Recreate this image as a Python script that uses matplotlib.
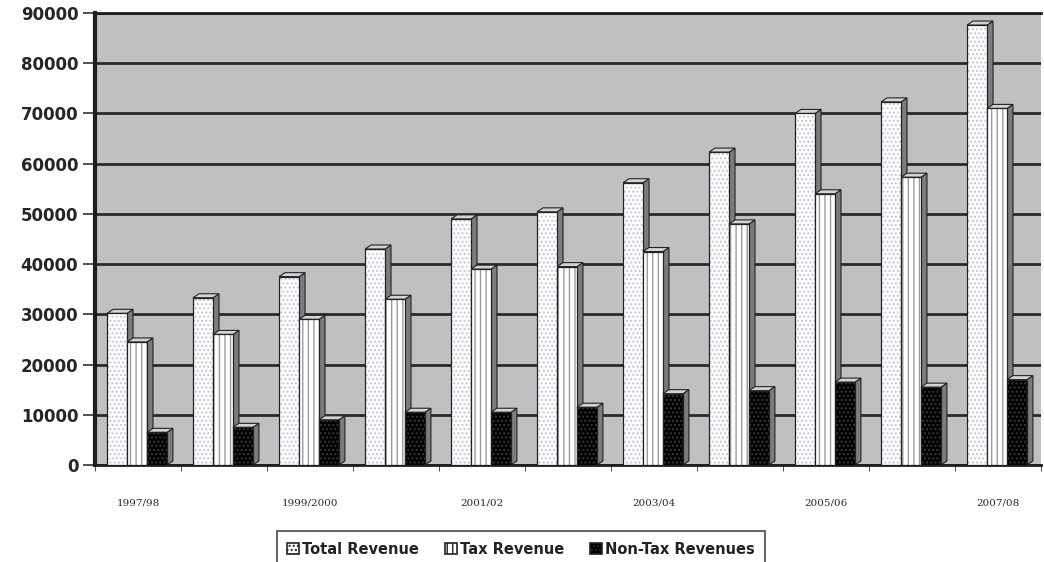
import matplotlib.pyplot as plt
import numpy as np
from matplotlib.patches import Polygon

# revenue by fiscal year
years = ['1997/98', '1998/99', '1999/2000', '2000/01', '2001/02', '2002/03',
         '2003/04', '2004/05', '2005/06', '2006/07', '2007/08']
total_rev = [30200, 33300, 37500, 43000, 49000, 50400, 56200, 62300, 70000, 72300, 87600]
tax_rev = [24500, 26000, 29000, 33000, 39000, 39500, 42500, 48000, 54000, 57300, 71000]
nontax_rev = [6500, 7500, 9000, 10500, 10500, 11500, 14200, 14800, 16500, 15500, 17000]

series = [('Total Revenue', total_rev, 'white', '#c4c4dc', '....'),
          ('Tax Revenue', tax_rev, 'white', '#9a9a9a', '|||'),
          ('Non-Tax Revenues', nontax_rev, 'black', '#3a3a3a', '....')]

fig = plt.figure(figsize=(10.44, 5.62), dpi=100)
ax = fig.add_axes([95/1044, 1-465/562, (1041-95)/1044, (465-13)/562])
ax.set_facecolor('#c0c0c0')

x = np.arange(len(years))
w = 0.232
start = -0.36
dx = 0.07
dy = 800

ax.set_axisbelow(True)
ax.yaxis.grid(True, color='#2a2a2a', linewidth=2)

for k, (name, vals, fc, hc, hatch) in enumerate(series):
    for i, v in enumerate(vals):
        x0 = x[i] + start + k*w
        side = Polygon([(x0+w, 0), (x0+w+dx, dy), (x0+w+dx, v+dy), (x0+w, v)],
                       closed=True, facecolor='#7c7c7c', edgecolor='#222222', lw=0.8, zorder=3)
        top = Polygon([(x0, v), (x0+dx, v+dy), (x0+w+dx, v+dy), (x0+w, v)],
                      closed=True, facecolor='#d4d4d4', edgecolor='#222222', lw=0.8, zorder=3)
        ax.add_patch(side)
        ax.add_patch(top)
        ax.bar(x0, v, width=w, align='edge', color=fc, edgecolor=hc, hatch=hatch,
               linewidth=0, zorder=3)
        ax.bar(x0, v, width=w, align='edge', fill=False, edgecolor='#222222',
               linewidth=0.9, zorder=3)
    # legend proxy
    ax.bar(0, 0, width=0, color=fc, edgecolor='#222222', hatch=hatch, linewidth=1.2,
           label=name)

ax.set_xlim(-0.5, len(years) - 0.5)
ax.set_ylim(0, 90000)
ax.set_yticks(np.arange(0, 90001, 10000))
ax.set_yticklabels([str(v) for v in range(0, 90001, 10000)],
                   fontsize=12, fontweight='bold', color='#262626')
ax.tick_params(axis='y', length=9, width=1.2, color='#333333', pad=3)

ax.set_xticks(x[::2])
ax.set_xticklabels(years[::2], fontsize=7.5, family='DejaVu Serif', color='#2a2a2a')
ax.set_xticks(np.arange(-0.5, len(years), 1), minor=True)
ax.tick_params(axis='x', which='major', length=0, pad=24)
ax.tick_params(axis='x', which='minor', length=4, color='#333333')

for s in ['left', 'top', 'bottom']:
    ax.spines[s].set_color('#1e1e1e')
ax.spines['left'].set_linewidth(3)
ax.spines['top'].set_linewidth(2)
ax.spines['bottom'].set_linewidth(2)
ax.spines['right'].set_visible(False)

leg = fig.legend(loc='upper center', bbox_to_anchor=(521/1044, 1-524/562), ncol=3,
                 frameon=True, fancybox=False, edgecolor='#444444', fontsize=10.5,
                 handlelength=0.8, handleheight=0.8, handletextpad=0.2, columnspacing=1.8,
                 borderpad=0.7)
leg.get_frame().set_linewidth(1.5)
for t in leg.get_texts():
    t.set_color('#222222')
    t.set_fontweight('semibold')

fig.savefig('out.png', dpi=100)
